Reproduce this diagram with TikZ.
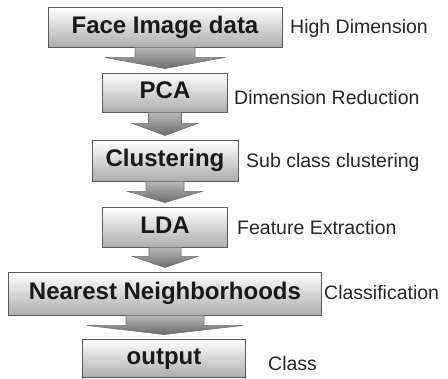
\documentclass[tikz,border=0pt]{standalone}
\usepackage{fontspec}
\setmainfont{Liberation Sans}
\usetikzlibrary{calc}
\tikzset{
    procbox/.style={draw=black!65, line width=0.9pt, top color=white, bottom color=black!32,
            inner sep=0pt, text height=17pt, text depth=4pt,
            font=\fontsize{24}{27}\selectfont\bfseries, text=black!90},
    sidenote/.style={anchor=west, inner sep=0pt, font=\fontsize{19.5}{22}\selectfont, text=black!85},
    flowarrow/.style={draw=black!55, line width=0.6pt, top color=black!28, bottom color=black!58},
}
% block arrow: from, to, shaft half width, head half width, shaft length
\newcommand{\blockarrow}[5]{%
    \draw[flowarrow] ($(#1.south)+(-#3,0)$) -- ++(0,#5) -- ($(#1.south)+(-#4,#5)$)
        -- ($(#2.north)+(0,-4)$) -- ($(#1.south)+(#4,#5)$) -- ($(#1.south)+(#3,#5)$)
        -- ($(#1.south)+(#3,0)$) -- cycle;}

\begin{document}
\begin{tikzpicture}[x=1pt, y=-1pt]
        \useasboundingbox (0,0) rectangle (448,379);
        %draw process boxes
        \node[procbox, minimum width=234pt, minimum height=40pt] (face) at (165,27) {Face Image data};
        \node[procbox, minimum width=125pt, minimum height=39pt] (pca) at (165,92.5) {PCA};
        \node[procbox, minimum width=146pt, minimum height=41pt] (clust) at (165,160.5) {Clustering};
        \node[procbox, minimum width=125pt, minimum height=40pt] (lda) at (165,227) {LDA};
        \node[procbox, minimum width=313pt, minimum height=43pt] (nn) at (165,293.5) {Nearest Neighborhoods};
        \node[procbox, minimum width=163pt, minimum height=38pt] (out) at (164,358) {output};
        %draw block arrows between boxes
        \blockarrow{face}{pca}{30}{60}{10}
        \blockarrow{pca}{clust}{16.5}{32.5}{11}
        \blockarrow{clust}{lda}{19}{37}{10}
        \blockarrow{lda}{nn}{16}{32.5}{9}
        \blockarrow{nn}{out}{39}{78}{10}
        %label each step
        \node[sidenote] (highdim) at (290,28) {High Dimension};
        \node[sidenote] (dimred) at (234,98) {Dimension Reduction};
        \node[sidenote] (subcls) at (246,162) {Sub class clustering};
        \node[sidenote] (featex) at (237,228) {Feature Extraction};
        \node[sidenote] (classif) at (324,293) {Classification};
        \node[sidenote] (cls) at (268,364) {Class};
    \end{tikzpicture}
\end{document}
